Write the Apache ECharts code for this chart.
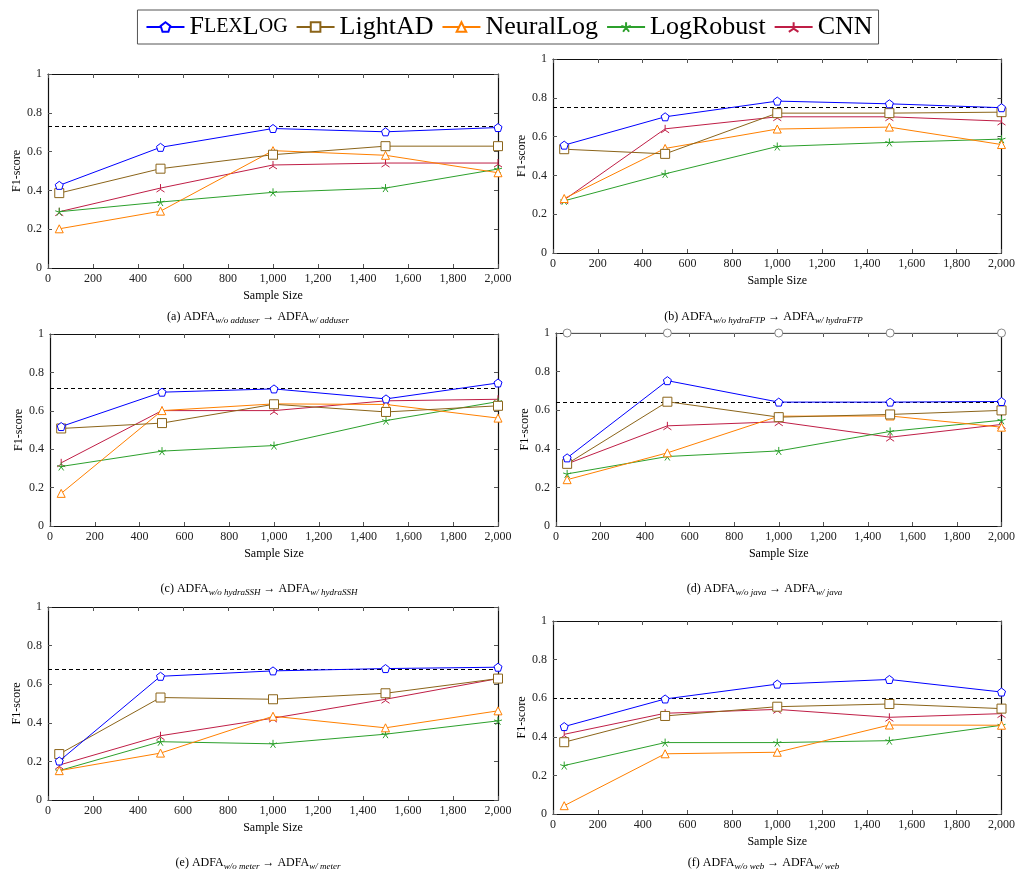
<!DOCTYPE html>
<html>
<head>
<meta charset="UTF-8">
<title>F1-score vs sample size</title>
<script src="https://cdn.jsdelivr.net/npm/echarts@6/dist/echarts.min.js"></script>
</head>
<body style="margin:0;background:#fff">
<div id="main" style="width:1018px;height:871px"></div>
<script type="text/javascript">
    // sample sizes on the x axis
    var sizes = [50, 500, 1000, 1500, 2000];
    // one row per panel, (a) .. (f)
    var flexLog = [
        [0.426, 0.622, 0.719, 0.702, 0.724],
        [0.556, 0.702, 0.783, 0.769, 0.749],
        [0.518, 0.697, 0.714, 0.662, 0.745],
        [0.353, 0.753, 0.642, 0.642, 0.645],
        [0.202, 0.641, 0.669, 0.681, 0.688],
        [0.453, 0.596, 0.673, 0.697, 0.632]
    ];
    var lightAD = [
        [0.386, 0.512, 0.584, 0.628, 0.628],
        [0.535, 0.511, 0.721, 0.721, 0.726],
        [0.508, 0.536, 0.634, 0.594, 0.626],
        [0.322, 0.644, 0.564, 0.578, 0.599],
        [0.238, 0.531, 0.522, 0.553, 0.629],
        [0.372, 0.508, 0.556, 0.570, 0.546]
    ];
    var neuralLog = [
        [0.202, 0.293, 0.605, 0.581, 0.491],
        [0.281, 0.539, 0.639, 0.649, 0.559],
        [0.170, 0.601, 0.636, 0.633, 0.562],
        [0.240, 0.379, 0.569, 0.570, 0.512],
        [0.152, 0.243, 0.434, 0.374, 0.462],
        [0.043, 0.312, 0.320, 0.461, 0.460]
    ];
    var logRobust = [
        [0.290, 0.340, 0.390, 0.412, 0.510],
        [0.269, 0.408, 0.549, 0.570, 0.587],
        [0.310, 0.390, 0.419, 0.549, 0.648],
        [0.270, 0.360, 0.389, 0.490, 0.548],
        [0.152, 0.302, 0.291, 0.341, 0.410],
        [0.251, 0.370, 0.370, 0.380, 0.460]
    ];
    var cnn = [
        [0.290, 0.412, 0.531, 0.541, 0.541],
        [0.274, 0.640, 0.702, 0.702, 0.680],
        [0.329, 0.601, 0.601, 0.652, 0.660],
        [0.322, 0.519, 0.540, 0.460, 0.526],
        [0.181, 0.333, 0.424, 0.522, 0.629],
        [0.413, 0.522, 0.542, 0.501, 0.520]
    ];
    // dashed reference line of each panel
    var baseline = [0.728, 0.754, 0.721, 0.640, 0.683, 0.602];
    // grey circles along the top of panel (d)
    var topRef = [1, 1, 1, 1, 1];
    var letters = ['a', 'b', 'c', 'd', 'e', 'f'];
    var targets = ['adduser', 'hydraFTP', 'hydraSSH', 'java', 'meter', 'web'];

    var serif = 'Liberation Serif';
    var grids = [
        {left: 48, top: 74, width: 450, height: 194},
        {left: 553, top: 59, width: 451, height: 194},
        {left: 50, top: 334, width: 448, height: 192},
        {left: 556, top: 333, width: 447, height: 193},
        {left: 48, top: 607, width: 450, height: 193},
        {left: 553, top: 621, width: 451, height: 193}
    ];
    var captionY = [317, 317, 589, 589, 863, 863];

    var methods = [
        {name: 'FlexLog', data: flexLog, color: '#0000ff', size: 8,
         symbol: 'path://M0,-10L9.51,-3.09L5.88,8.09L-5.88,8.09L-9.51,-3.09Z'},
        {name: 'LightAD', data: lightAD, color: '#8b6419', size: 9, symbol: 'rect'},
        {name: 'NeuralLog', data: neuralLog, color: '#ff8000', size: 8, symbol: 'triangle'},
        {name: 'LogRobust', data: logRobust, color: '#2ca02c', size: 8,
         symbol: 'path://M0,0L0,-10M0,0L9.51,-3.09M0,0L5.88,8.09M0,0L-5.88,8.09M0,0L-9.51,-3.09'},
        {name: 'CNN', data: cnn, color: '#bf1e46', size: 8,
         symbol: 'path://M0,0L0,-10M0,0L8.66,5M0,0L-8.66,5'}
    ];

    var tickStyle = {show: true, inside: true, length: 4, lineStyle: {color: '#555', width: 1}};
    var lineStyle = {show: true, onZero: false, lineStyle: {color: '#111', width: 1.2}};

    var xAxes = [], yAxes = [], series = [], graphics = [];
    grids.forEach(function (g, p) {
        xAxes.push({
            gridIndex: p, type: 'value', min: 0, max: 2000, interval: 200,
            name: 'Sample Size', nameLocation: 'middle', nameGap: 22,
            nameTextStyle: {fontFamily: serif, fontSize: 12, color: '#000'},
            axisLine: lineStyle, axisTick: tickStyle, splitLine: {show: false},
            axisLabel: {fontFamily: serif, fontSize: 12, color: '#222', margin: 5,
                formatter: function (v) { return v.toLocaleString('en-US'); }}
        });
        xAxes.push({
            gridIndex: p, type: 'value', position: 'top', min: 0, max: 2000, interval: 200,
            axisLine: lineStyle, axisTick: tickStyle, axisLabel: {show: false}, splitLine: {show: false}
        });
        yAxes.push({
            gridIndex: p, type: 'value', min: 0, max: 1, interval: 0.2,
            name: 'F1-score', nameLocation: 'middle', nameGap: 24,
            nameTextStyle: {fontFamily: serif, fontSize: 12, color: '#000'},
            axisLine: lineStyle, axisTick: tickStyle, splitLine: {show: false},
            axisLabel: {fontFamily: serif, fontSize: 12, color: '#222', margin: 6}
        });
        yAxes.push({
            gridIndex: p, type: 'value', position: 'right', min: 0, max: 1, interval: 0.2,
            axisLine: lineStyle, axisTick: tickStyle, axisLabel: {show: false}, splitLine: {show: false}
        });

        if (p === 3) {
            series.push({
                name: 'ref', type: 'line', xAxisIndex: p * 2, yAxisIndex: p * 2,
                data: sizes.map(function (x, i) { return [x, topRef[i]]; }),
                symbol: 'circle', symbolSize: 8, z: 1,
                lineStyle: {color: '#999', width: 1},
                itemStyle: {color: '#fff', borderColor: '#888', borderWidth: 1}
            });
        }

        methods.forEach(function (m, k) {
            var s = {
                name: m.name, type: 'line', xAxisIndex: p * 2, yAxisIndex: p * 2,
                data: sizes.map(function (x, i) { return [x, m.data[p][i]]; }),
                symbol: m.symbol, symbolSize: m.size, z: 10 - k,
                lineStyle: {color: m.color, width: 1},
                itemStyle: {color: '#fff', borderColor: m.color, borderWidth: 1}
            };
            if (k === 0) {
                s.markLine = {
                    silent: true, symbol: 'none', label: {show: false},
                    lineStyle: {color: '#000', type: [4, 3], width: 1},
                    data: [{yAxis: baseline[p]}]
                };
            }
            series.push(s);
        });

        // caption sits centred under the whole sub-figure, a bit left of the plot centre
        graphics.push({
            type: 'text',
            x: g.left + g.width / 2 - 15,
            y: captionY[p],
            style: {
                text: '{n|(' + letters[p] + ') ADFA}{s|w/o ' + targets[p] + '}{n| \u2192 ADFA}{s|w/ ' + targets[p] + '}',
                align: 'center',
                verticalAlign: 'middle',
                rich: {
                    n: {fontFamily: serif, fontSize: 12, fill: '#000', verticalAlign: 'bottom'},
                    s: {fontFamily: serif, fontStyle: 'italic', fontSize: 9, fill: '#000', verticalAlign: 'bottom', padding: [0, 0, -2, 0]}
                }
            }
        });
    });

    var chart = echarts.init(document.getElementById('main'));
    chart.setOption({
        animation: false,
        backgroundColor: '#fff',
        legend: {
            data: ['FlexLog', 'LightAD', 'NeuralLog', 'LogRobust', 'CNN'],
            left: 'center', top: 10,
            itemWidth: 38, itemHeight: 12, itemGap: 8,
            padding: [4, 6, 4, 8],
            borderColor: '#555', borderWidth: 1,
            textStyle: {
                fontFamily: serif, fontSize: 26, color: '#000',
                rich: {
                    big: {fontFamily: serif, fontSize: 26, color: '#000'},
                    sc: {fontFamily: serif, fontSize: 20, color: '#000'}
                }
            },
            formatter: function (name) {
                return name === 'FlexLog' ? '{big|F}{sc|LEX}{big|L}{sc|OG}' : name;
            }
        },
        grid: grids,
        xAxis: xAxes,
        yAxis: yAxes,
        series: series,
        graphic: graphics
    });
</script>
</body>
</html>
